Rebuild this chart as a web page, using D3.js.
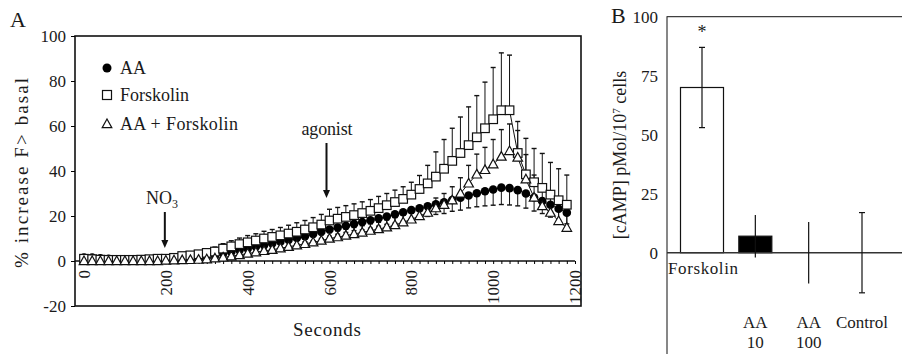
<!DOCTYPE html>
<html>
<head>
<meta charset="utf-8">
<script src="https://cdn.jsdelivr.net/npm/d3@7/dist/d3.min.js"></script>
<style>
  body { margin: 0; background: #fff; }
</style>
</head>
<body>
<div id="chart"></div>
<script>
// ---- panel A: time course, one point every 20 s ----
const seconds = d3.range(0, 1200, 20);
const aaVals = [1.5,1.5,1.2,1,0.8,0.6,0.5,0.5,0.5,0.5,
  0.5,0.7,1,1.2,1.5,2,2.5,3.3,4,4.8,
  5.5,6.3,7,7.8,8.6,9.4,10.2,11,12,13,
  14,14.9,15.7,16.5,17.3,18.1,19,19.8,20.8,21.7,
  22.6,23.4,24.3,25.2,26.1,27.1,28.1,29.1,30.1,31,
  31.8,32.6,32.4,31.5,30,28.2,26.6,25,23.2,21.5];
const aaErr = [1,1,1,1,1,1,1,1,1,1,
  1,1,1,1,1.2,1.3,1.4,1.5,1.6,1.8,
  2,2,2,2,2.5,2.5,2.5,2.5,3,3,
  3,3,3,3,3.5,3.5,3.5,3.5,4,4,
  4,4,4.5,4.5,5,5,5.5,5.5,6,6.5,
  7,7.5,7.5,7,6.5,6,5.5,5.5,5,5];
const forskVals = [1,0.8,0.6,0.5,0.5,0.5,0.5,0.6,0.8,1,
  1,1.4,2.2,2.5,3,3.6,4.2,5.5,6.5,7.5,
  8.3,9.1,10,10.7,11.4,12.2,13,14,15,16.2,
  18,18.8,19.6,20.4,21.3,22.3,23.5,24.8,26.2,27.6,
  29.5,32,34.5,37.5,41,44.5,48,51.5,55,59,
  63,67,67,48,38.5,35,32.5,29.5,27,25];
const forskErr = [0.8,0.8,0.8,0.8,0.8,0.8,0.8,0.8,0.8,0.8,
  1,1,1.2,1.3,1.5,1.7,2,2.2,2.5,2.7,
  3,3,3.2,3.3,3.5,3.7,4,4,4.3,4.5,
  5,5,5,5,5,5,5.2,5.2,5.3,5.4,
  5.5,6,8,11,13,14.5,16,17,18.5,20.5,
  23,25.5,24.5,14,16,15,15.3,14.3,14,13.2];
const aaForskVals = [0,0,0,0,0,0,0,0,0,0,
  0.2,0.3,0.4,0.5,0.6,0.8,1.2,1.6,2.1,2.7,
  3.3,3.9,4.5,5,5.7,6.3,7,7.6,8.3,9.1,
  10,10.6,11.3,12,12.7,13.5,14.2,15,16,17.2,
  18.5,20,21.5,23.5,25,27,30,34.5,38.5,40.5,
  43,46.4,48.9,46,36.3,28.2,24.4,21.5,17.8,14.8];
const aaForskErr = [0.5,0.5,0.5,0.5,0.5,0.5,0.5,0.5,0.5,0.5,
  0.5,0.5,0.6,0.7,0.8,1,1,1.2,1.3,1.4,
  1.5,1.6,1.7,1.8,2,2,2.2,2.3,2.5,2.5,
  2.6,2.7,2.8,2.9,3,3,3,3.2,3.3,3.4,
  3.5,4,4,4.5,5,6,7,8,9,10,
  11,12,12,12,11,10,9,8,8,7];
const aTicksY = [-20, 0, 20, 40, 60, 80, 100];
const aTicksX = [0, 200, 400, 600, 800, 1000, 1200];

// ---- panel B: cAMP bars ----
const bCats = ["Forskolin", "AA 10", "AA 100", "Control"];
const bVals = [70, 7, 0, 0];
const bErr = [17, 9, 13, 17];
const bTicks = [0, 25, 50, 75, 100];

const FONT = "'Liberation Serif', 'Times New Roman', serif";
const width = 902, height = 354;
const svg = d3.select("#chart").append("svg")
  .attr("width", width).attr("height", height);

// ================= panel A =================
const xA = d3.scaleLinear().domain([0, 1200]).range([84, 575]);
const yA = d3.scaleLinear().domain([-20, 100]).range([306, 36]);

svg.append("text").attr("x", 10).attr("y", 27).attr("font-size", 22).text("A");

svg.append("rect")
  .attr("x", 75).attr("y", yA(100))
  .attr("width", 506).attr("height", yA(-20) - yA(100))
  .attr("fill", "none").attr("stroke", "#111").attr("stroke-width", 1.6);

const yAxisA = svg.append("g").attr("transform", "translate(75,0)")
  .call(d3.axisLeft(yA).tickValues(aTicksY).tickSize(4).tickSizeOuter(0).tickPadding(5)
    .tickFormat(d => String(d)));
yAxisA.select(".domain").remove();
yAxisA.selectAll("text").attr("font-size", 17);

const xAxisA = svg.append("g").attr("transform", `translate(0,${yA(0)})`)
  .call(d3.axisBottom(xA).tickValues(d3.range(0, 1201, 20)).tickSize(3).tickSizeOuter(0)
    .tickFormat(d => aTicksX.includes(d) ? d : ""));
xAxisA.select(".domain").attr("stroke", "#111").attr("stroke-width", 1.4).attr("d", `M${xA(0) - 9},0H${xA(1200)}`);
xAxisA.selectAll("text")
  .attr("font-size", 17)
  .attr("transform", "rotate(-90)")
  .attr("text-anchor", "end")
  .attr("x", -9).attr("y", 0).attr("dy", "0.33em");

svg.append("text")
  .attr("transform", `translate(28,${(yA(100) + yA(-20)) / 2 + 2}) rotate(-90)`)
  .attr("text-anchor", "middle").attr("font-size", 19)
  .attr("textLength", 190).attr("lengthAdjust", "spacing")
  .text("% increase F> basal");

svg.append("text").attr("x", 327).attr("y", 336)
  .attr("text-anchor", "middle").attr("font-size", 19)
  .attr("textLength", 68).attr("lengthAdjust", "spacing").text("Seconds");

const ptsA = [
  { vals: aaVals, err: aaErr, dir: -1 },
  { vals: forskVals, err: forskErr, dir: 1 },
  { vals: aaForskVals, err: aaForskErr, dir: 1 }
];

const line = d3.line().x((d, i) => xA(seconds[i])).y(d => yA(d));

// error bars first
ptsA.forEach(s => {
  const g = svg.append("g").attr("stroke", "#111").attr("stroke-width", 1);
  s.vals.forEach((v, i) => {
    const x = xA(seconds[i]);
    const y2 = yA(v + s.dir * s.err[i]);
    g.append("line").attr("x1", x).attr("x2", x).attr("y1", yA(v)).attr("y2", y2);
    g.append("line").attr("x1", x - 2.5).attr("x2", x + 2.5).attr("y1", y2).attr("y2", y2)
      .attr("stroke-width", 1.4);
  });
});

ptsA.forEach(s => {
  svg.append("path").datum(s.vals).attr("d", line)
    .attr("fill", "none").attr("stroke", "#111").attr("stroke-width", 1);
});

const triPath = "M0,-5L4.8,3.6L-4.8,3.6Z";

svg.append("g").selectAll("circle").data(aaVals).join("circle")
  .attr("cx", (d, i) => xA(seconds[i])).attr("cy", d => yA(d))
  .attr("r", 4.3).attr("fill", "#000");

svg.append("g").selectAll("rect").data(forskVals).join("rect")
  .attr("x", (d, i) => xA(seconds[i]) - 4.3).attr("y", d => yA(d) - 4.3)
  .attr("width", 8.6).attr("height", 8.6)
  .attr("fill", "#fff").attr("stroke", "#111").attr("stroke-width", 1.2);

svg.append("g").selectAll("path").data(aaForskVals).join("path")
  .attr("transform", (d, i) => `translate(${xA(seconds[i])},${yA(d)})`)
  .attr("d", triPath)
  .attr("fill", "#fff").attr("stroke", "#111").attr("stroke-width", 1.2);

// legend
const legA = svg.append("g").attr("font-size", 18);
legA.append("circle").attr("cx", 107).attr("cy", 68).attr("r", 4.5).attr("fill", "#000");
legA.append("text").attr("x", 120).attr("y", 74).text("AA");
legA.append("rect").attr("x", 102.5).attr("y", 90.5).attr("width", 9).attr("height", 9)
  .attr("fill", "#fff").attr("stroke", "#111").attr("stroke-width", 1.2);
legA.append("text").attr("x", 120).attr("y", 101)
  .attr("textLength", 69).attr("lengthAdjust", "spacing").text("Forskolin");
legA.append("path").attr("transform", "translate(107,124)").attr("d", triPath)
  .attr("fill", "#fff").attr("stroke", "#111").attr("stroke-width", 1.2);
legA.append("text").attr("x", 120).attr("y", 130)
  .attr("textLength", 118).attr("lengthAdjust", "spacing").text("AA + Forskolin");

// arrows
function arrow(x, y1, y2) {
  svg.append("line").attr("x1", x).attr("x2", x).attr("y1", y1).attr("y2", y2 - 6)
    .attr("stroke", "#111").attr("stroke-width", 2);
  svg.append("path").attr("d", `M${x - 3.5},${y2 - 8}L${x + 3.5},${y2 - 8}L${x},${y2}Z`)
    .attr("fill", "#111");
}
arrow(xA(600) - 3, 143, 198);
arrow(xA(200) - 1, 212, 248);

svg.append("text").attr("x", 327).attr("y", 135).attr("text-anchor", "middle")
  .attr("font-size", 18).attr("textLength", 51).attr("lengthAdjust", "spacing").text("agonist");
const no3 = svg.append("text").attr("x", 146).attr("y", 204).attr("font-size", 18);
no3.append("tspan").text("NO");
no3.append("tspan").attr("dy", 4).attr("font-size", 12).text("3");

// ================= panel B =================
const xB = d3.scalePoint().domain(bCats).range([702, 862]);
const yB = d3.scaleLinear().domain([-50, 100]).range([370.7, 16.7]);

svg.append("text").attr("x", 611).attr("y", 23).attr("font-size", 22).text("B");

svg.append("rect")
  .attr("x", 667).attr("y", yB(100))
  .attr("width", 260).attr("height", yB(-50) - yB(100))
  .attr("fill", "none").attr("stroke", "#111").attr("stroke-width", 1);

const yAxisB = svg.append("g").attr("transform", "translate(667,0)")
  .call(d3.axisLeft(yB).tickValues(bTicks).tickSize(0).tickPadding(9));
yAxisB.select(".domain").remove();
yAxisB.selectAll("text").attr("font-size", 17);

const yLabB = svg.append("text")
  .attr("transform", `translate(626,155) rotate(-90)`)
  .attr("text-anchor", "middle").attr("font-size", 18);
yLabB.append("tspan").text("[cAMP] pMol/10");
yLabB.append("tspan").attr("dy", -6).attr("font-size", 11).text("7");
yLabB.append("tspan").attr("dy", 6).text(" cells");

const barW = c => c === "Forskolin" ? 43 : 33;
svg.append("g").selectAll("rect").data(bCats).join("rect")
  .attr("x", c => xB(c) - barW(c) / 2)
  .attr("y", (c, i) => yB(Math.max(0, bVals[i])))
  .attr("width", barW)
  .attr("height", (c, i) => Math.abs(yB(bVals[i]) - yB(0)))
  .attr("fill", (c, i) => i === 0 ? "#fff" : "#000")
  .attr("stroke", "#111").attr("stroke-width", 1.2);

svg.append("line").attr("x1", 667).attr("x2", width).attr("y1", yB(0)).attr("y2", yB(0))
  .attr("stroke", "#333").attr("stroke-width", 1.6);

const capped = [true, false, false, true];
bCats.forEach((c, i) => {
  const x = xB(c);
  const top = yB(bVals[i] + bErr[i]), bot = yB(bVals[i] - bErr[i]);
  svg.append("line").attr("x1", x).attr("x2", x).attr("y1", top).attr("y2", bot)
    .attr("stroke", "#111").attr("stroke-width", 1.2);
  if (capped[i]) {
    [top, bot].forEach(y => svg.append("line").attr("x1", x - 3).attr("x2", x + 3)
      .attr("y1", y).attr("y2", y).attr("stroke", "#111").attr("stroke-width", 1.2));
  }
});

svg.append("text").attr("x", xB("Forskolin")).attr("y", 38).attr("text-anchor", "middle")
  .attr("font-size", 18).attr("fill", "#555").text("*");

// category labels
svg.append("text").attr("x", 668).attr("y", 274).attr("font-size", 17)
  .attr("textLength", 70).attr("lengthAdjust", "spacing").text(bCats[0]);
bCats.slice(1).forEach(c => {
  const parts = c.split(" ");
  const t = svg.append("text").attr("x", xB(c)).attr("y", 328)
    .attr("text-anchor", "middle").attr("font-size", 17);
  parts.forEach((p, j) => t.append("tspan").attr("x", xB(c)).attr("dy", j ? 20 : 0).text(p));
});

// one serif face for every label, axes included
svg.selectAll("text").style("font-family", FONT).style("fill", "#1a1a1a");
</script>
</body>
</html>
